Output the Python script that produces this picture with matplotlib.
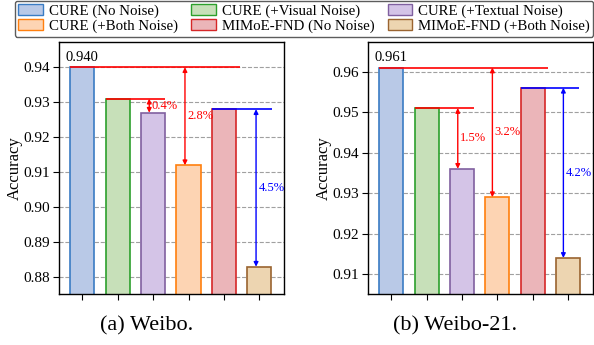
import matplotlib
matplotlib.use("Agg")
import matplotlib.pyplot as plt
from matplotlib.patches import Patch

plt.rcParams['font.family'] = ['Liberation Serif', 'DejaVu Serif']
plt.rcParams['mathtext.fontset'] = 'stix'

# ---- data ----
series_labels = ['CURE (No Noise)', 'CURE (+Visual Noise)', 'CURE (+Textual Noise)',
                 'CURE (+Both Noise)', 'MIMoE-FND (No Noise)', 'MIMoE-FND (+Both Noise)']
weibo_acc = [0.940, 0.931, 0.927, 0.912, 0.928, 0.883]
weibo21_acc = [0.961, 0.951, 0.936, 0.929, 0.956, 0.914]
weibo_drops = ['0.4%', '2.8%', '4.5%']
weibo21_drops = ['1.5%', '3.2%', '4.2%']
weibo_yticks = [0.88, 0.89, 0.90, 0.91, 0.92, 0.93, 0.94]
weibo21_yticks = [0.91, 0.92, 0.93, 0.94, 0.95, 0.96]
captions = ['(a) Weibo.', '(b) Weibo-21.']

face_colors = ['#b9c9e7', '#c7e0b9', '#d4c4e7', '#fdd4b3', '#ebb5b9', '#edd5b1']
edge_colors = ['#3a7cc4', '#2ca02c', '#8060a0', '#ff7f0e', '#d62728', '#9a6430']

W, H = 594, 345
fig = plt.figure(figsize=(W / 100, H / 100), dpi=100)

def px_axes(x0, y0, x1, y1):
    return fig.add_axes([x0 / W, 1 - y1 / H, (x1 - x0) / W, (y1 - y0) / H])

ax1 = px_axes(58.7, 42, 284, 294)
ax2 = px_axes(367.7, 42, 592.7, 294)

bw = 0.68

def draw(ax, vals, drops, yticks, ylim, ann):
    x = list(range(len(vals)))
    ax.set_axisbelow(True)
    ax.yaxis.grid(True, linestyle='--', color='#a0a0a0', linewidth=0.8)
    ax.bar(x, vals, width=bw, color=face_colors, edgecolor=edge_colors, linewidth=1.2, zorder=2)
    ax.set_ylim(*ylim)
    ax.set_xlim(-0.67, 5.7)
    ax.set_yticks(yticks)
    ax.set_yticklabels([f'{t:.2f}' for t in yticks], fontsize=11)
    ax.set_xticks(x)
    ax.set_xticklabels([])
    ax.tick_params(axis='both', direction='out', length=4.5, width=0.8, pad=2)
    ax.set_ylabel('Accuracy', fontsize=12)
    ax.yaxis.set_label_coords(-0.158, 0.5)
    for s in ax.spines.values():
        s.set_linewidth(1.0)
    ax.text(0, vals[0] + 0.0009, f'{vals[0]:.3f}', ha='center', va='bottom', fontsize=10.5, zorder=5)
    l0_end, a1x, a2x, b_start, b_end, b_x = ann
    ax.hlines(vals[0], -bw / 2, l0_end, color='red', linewidth=1.2, zorder=4)
    ax.hlines(vals[1], 1 - bw / 2, 2 + bw / 2, color='red', linewidth=1.2, zorder=4)
    ax.hlines(vals[4], b_start, b_end, color='blue', linewidth=1.2, zorder=4)
    arrows = [(a1x, vals[1], vals[2], 'red', drops[0]),
              (a2x, vals[0], vals[3], 'red', drops[1]),
              (b_x, vals[4], vals[5], 'blue', drops[2])]
    for xx, ytop, ybot, col, lab in arrows:
        ax.annotate('', xy=(xx, ybot), xytext=(xx, ytop),
                    arrowprops=dict(arrowstyle='<|-|>', color=col, lw=1.0,
                                    mutation_scale=6.5, shrinkA=0, shrinkB=0), zorder=5)
        ax.text(xx + 0.07, (ytop + ybot) / 2, lab, color=col, fontsize=9,
                ha='left', va='center', zorder=5)

draw(ax1, weibo_acc, weibo_drops, weibo_yticks, (0.8752, 0.9472),
     (4.45, 1.89, 2.90, 3.66, 5.37, 4.91))
draw(ax2, weibo21_acc, weibo21_drops, weibo21_yticks, (0.9051, 0.9673),
     (4.43, 1.88, 2.86, 3.66, 5.32, 4.87))

fig.text(147 / W, 1 - 326 / H, captions[0], ha='center', va='center', fontsize=16)
fig.text(455 / W, 1 - 326 / H, captions[1], ha='center', va='center', fontsize=16)

handles = [Patch(facecolor=f, edgecolor=e, linewidth=1.0) for f, e in zip(face_colors, edge_colors)]
order = [0, 3, 1, 4, 2, 5]  # row-major fill for 3 columns
leg = fig.legend([handles[i] for i in order], [series_labels[i] for i in order],
                 ncol=3, loc='upper center',
                 bbox_to_anchor=(304 / W, 1 - 0.5 / H),
                 fontsize=10.7, frameon=True, fancybox=True, handlelength=1.65,
                 handleheight=0.75, handletextpad=0.4, borderaxespad=0,
                 labelspacing=0.08, borderpad=0.25, columnspacing=0.9)
leg.get_frame().set_edgecolor('#333333')
leg.get_frame().set_linewidth(1.0)

fig.savefig('out.png', dpi=100)
